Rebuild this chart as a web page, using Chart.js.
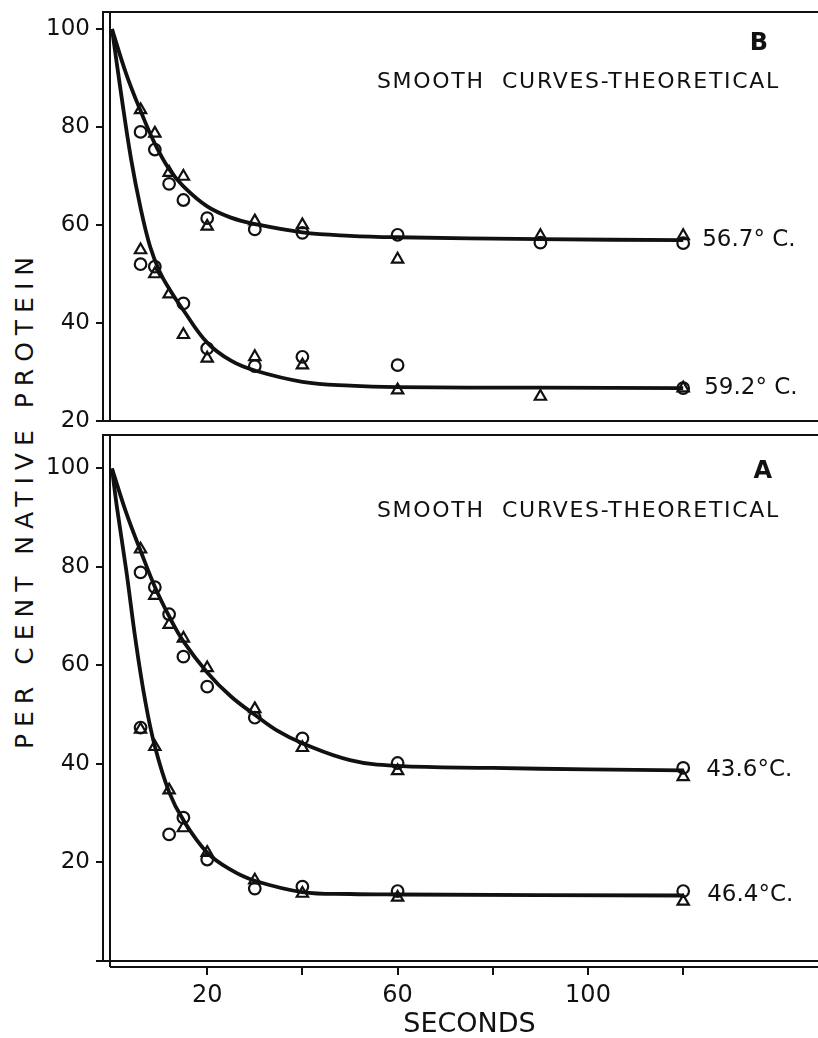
<!DOCTYPE html>
<html>
<head>
<meta charset="utf-8">
<title>Per cent native protein vs. seconds</title>
<script src="https://cdn.jsdelivr.net/npm/chart.js@4.4.1/dist/chart.umd.min.js"></script>
<style>
  html, body { margin: 0; padding: 0; background: #fff; }
  body { width: 818px; height: 1038px; overflow: hidden; position: relative; }
  canvas { position: absolute; left: 0; }
  #yTitle {
    position: absolute; left: -236px; top: 487px; width: 520px;
    text-align: center; white-space: nowrap; color: #111;
    font: 25px "DejaVu Sans", sans-serif; line-height: 25px; letter-spacing: 7px;
    transform: rotate(-90deg);
  }
</style>
</head>
<body>
<div id="yTitle">PER CENT NATIVE PROTEIN</div>
<canvas id="panelA" width="836" height="608" style="top:430px"></canvas>
<canvas id="panelB" width="836" height="440" style="top:0"></canvas>
<script>
// sampling times (s) for the measured points
const seconds = [6, 9, 12, 15, 20, 30, 40, 60, 90, 120];

// panel B, measured points (null = not measured)
const b567Circles   = [79.0, 75.4, 68.4, 65.1, 61.4, 59.1, 58.4, 58.0, 56.4, 56.3];
const b567Triangles = [83.5, 78.7, 70.7, 69.9, 59.7, 60.8, 60.0, 53.0, 57.8, 57.8];
const b592Circles   = [52.0, 51.5, null, 44.0, 34.8, 31.2, 33.1, 31.4, null, 26.7];
const b592Triangles = [54.9, 50.0, 45.9, 37.6, 32.8, 33.1, 31.4, 26.3, 25.0, 26.7];

// panel A, measured points
const a436Circles   = [78.9, 75.9, 70.4, 61.8, 55.7, 49.4, 45.2, 40.2, null, 39.2];
const a436Triangles = [83.6, 74.2, 68.3, 65.5, 59.5, 51.2, 43.3, 38.6, null, 37.4];
const a464Circles   = [47.4, null, 25.7, 29.1, 20.6, 14.7, 15.1, 14.2, null, 14.2];
const a464Triangles = [47.0, 43.5, 34.7, 27.0, 22.0, 16.4, 13.7, 12.9, null, 12.1];

// theoretical curves
const curveTimeB567 = [0, 3, 6, 9, 12, 15, 20, 25, 30, 40, 50, 60, 90, 120];
const curveB567     = [100, 90.8, 83.3, 76.6, 71.4, 67.9, 63.8, 61.5, 60.2, 58.5, 57.8, 57.5, 57.1, 56.9];
const curveTimeB592 = [0, 2, 4, 6, 8, 10, 12, 15, 20, 25, 30, 40, 50, 60, 90, 120];
const curveB592     = [100, 86.2, 73.5, 63.5, 55.6, 50.5, 47.0, 42.6, 36.0, 32.3, 30.3, 28.0, 27.2, 26.9, 26.8, 26.7];
const curveTimeA436 = [0, 3, 6, 9, 12, 15, 20, 25, 30, 35, 40, 50, 60, 80, 100, 120];
const curveA436     = [100, 91.0, 83.3, 76.0, 70.0, 64.9, 58.6, 53.7, 50.0, 46.6, 44.2, 40.8, 39.6, 39.2, 38.9, 38.7];
const curveTimeA464 = [0, 1, 3, 5, 7, 9, 12, 15, 20, 25, 30, 40, 50, 60, 120];
const curveA464     = [100, 92.4, 79.3, 64.8, 52.7, 43.6, 34.3, 28.6, 22.0, 18.5, 16.3, 14.0, 13.6, 13.5, 13.3];

const xTicks = [20, 40, 60, 80, 100, 120];
const xTickLabels = [20, 60, 100];
const yTicksB = [20, 40, 60, 80, 100];
const yTicksA = [0, 20, 40, 60, 80, 100];
const yTickLabels = [20, 40, 60, 80, 100];

const FONT = '"DejaVu Sans", sans-serif';
const INK = '#111';
Chart.defaults.font.family = FONT;
Chart.defaults.color = INK;

const X_MIN = -1.89, X_MAX = 152.1;

const pts = (xs, ys) => xs.map((x, i) => ({ x, y: ys[i] })).filter(p => p.y !== null);

const marks = (ys, style) => ({
  data: pts(seconds, ys),
  showLine: false,
  pointStyle: style,
  pointRadius: style === 'triangle' ? 6.5 : 5.8,
  pointBorderWidth: 2.2,
  pointBorderColor: INK,
  pointBackgroundColor: 'rgba(0,0,0,0)',
  order: 0
});

const curve = (ts, ys) => ({
  data: pts(ts, ys),
  showLine: true,
  borderColor: INK,
  borderWidth: 3.8,
  pointRadius: 0,
  tension: 0.4,
  order: 1
});

// double-ruled frame of each panel
const frameLines = {
  id: 'frameLines',
  beforeDatasetsDraw(chart, args, opts) {
    const { ctx, chartArea: { left, top, right, bottom } } = chart;
    const base = chart.scales.y.getPixelForValue(opts.base);
    const inner = left + 7;
    const seg = (x1, y1, x2, y2) => { ctx.beginPath(); ctx.moveTo(x1, y1); ctx.lineTo(x2, y2); ctx.stroke(); };
    ctx.save();
    ctx.strokeStyle = INK;
    ctx.lineWidth = 2;
    seg(left - 1, top, right, top);
    seg(left, top, left, base);
    seg(left, base, right, base);
    seg(inner, top, inner, bottom);
    seg(inner, bottom, right, bottom);
    ctx.restore();
  }
};

// panel letter, the note, and temperature labels at the curve ends
const panelText = {
  id: 'panelText',
  afterDatasetsDraw(chart, args, o) {
    const { ctx, scales: { x, y } } = chart;
    ctx.save();
    ctx.fillStyle = INK;
    ctx.textAlign = 'right';
    ctx.textBaseline = 'alphabetic';
    ctx.font = `bold 24px ${FONT}`;
    ctx.fillText(o.letter, o.letterRight, o.letterBase);
    ctx.font = `22px ${FONT}`;
    ctx.letterSpacing = '1.7px';
    ctx.fillText(o.note, o.noteRight, o.noteBase);
    ctx.letterSpacing = '0px';
    ctx.textAlign = 'left';
    ctx.textBaseline = 'middle';
    ctx.font = `23px ${FONT}`;
    o.temps.forEach(t => {
      const last = t.curve.length - 1;
      ctx.fillText(t.text, x.getPixelForValue(t.time[last]) + t.dx, y.getPixelForValue(t.curve[last]));
    });
    ctx.restore();
  }
};

function yAxis(min, max, ticks) {
  return {
    type: 'linear',
    min, max,
    afterBuildTicks: s => { s.ticks = ticks.map(v => ({ value: v })); },
    afterFit: s => { s.width = 103; s.paddingTop = 0; s.paddingBottom = 0; },
    grid: { drawOnChartArea: false, tickLength: 7, lineWidth: 2, color: INK },
    border: { display: false },
    ticks: {
      autoSkip: false,
      padding: 6,
      color: INK,
      font: { size: 23 },
      callback: v => (yTickLabels.includes(v) ? String(v) : '')
    }
  };
}

function baseOptions(extra) {
  return {
    responsive: false,
    animation: false,
    devicePixelRatio: 1,
    events: [],
    plugins: { legend: { display: false }, tooltip: { enabled: false }, ...extra.plugins },
    layout: { autoPadding: false, padding: extra.padding },
    scales: extra.scales
  };
}

new Chart(document.getElementById('panelB'), {
  type: 'scatter',
  data: {
    datasets: [
      marks(b567Circles, 'circle'), marks(b567Triangles, 'triangle'),
      marks(b592Circles, 'circle'), marks(b592Triangles, 'triangle'),
      curve(curveTimeB567, curveB567), curve(curveTimeB592, curveB592)
    ]
  },
  options: baseOptions({
    padding: { left: 0, right: 0, top: 12, bottom: 19 },
    scales: {
      x: { type: 'linear', display: false, min: X_MIN, max: X_MAX },
      y: yAxis(20, 103.47, yTicksB)
    },
    plugins: {
      frameLines: { base: 20 },
      panelText: {
        letter: 'B', letterRight: 768, letterBase: 50,
        note: 'SMOOTH  CURVES-THEORETICAL', noteRight: 780, noteBase: 88,
        temps: [
          { text: '56.7° C.', time: curveTimeB567, curve: curveB567, dx: 19 },
          { text: '59.2° C.', time: curveTimeB592, curve: curveB592, dx: 21 }
        ]
      }
    }
  }),
  plugins: [frameLines, panelText]
});

new Chart(document.getElementById('panelA'), {
  type: 'scatter',
  data: {
    datasets: [
      marks(a436Circles, 'circle'), marks(a436Triangles, 'triangle'),
      marks(a464Circles, 'circle'), marks(a464Triangles, 'triangle'),
      curve(curveTimeA436, curveA436), curve(curveTimeA464, curveA464)
    ]
  },
  options: baseOptions({
    padding: { left: 0, right: 0, top: 5, bottom: 0 },
    scales: {
      x: {
        type: 'linear',
        min: X_MIN, max: X_MAX,
        afterBuildTicks: s => { s.ticks = xTicks.map(v => ({ value: v })); },
        afterFit: s => { s.height = 71; s.paddingLeft = 0; s.paddingRight = 0; },
        grid: { drawOnChartArea: false, tickLength: 8, lineWidth: 2, color: INK },
        border: { display: false },
        ticks: {
          autoSkip: false, maxRotation: 0, padding: 6, color: INK,
          font: { size: 24 },
          callback: v => (xTickLabels.includes(v) ? String(v) : '')
        },
        title: { display: true, text: 'SECONDS', color: INK, padding: 0, font: { size: 27, lineHeight: 1 } }
      },
      y: yAxis(-1.22, 106.8, yTicksA)
    },
    plugins: {
      frameLines: { base: 0 },
      panelText: {
        letter: 'A', letterRight: 772, letterBase: 48,
        note: 'SMOOTH  CURVES-THEORETICAL', noteRight: 780, noteBase: 87,
        temps: [
          { text: '43.6°C.', time: curveTimeA436, curve: curveA436, dx: 23 },
          { text: '46.4°C.', time: curveTimeA464, curve: curveA464, dx: 24 }
        ]
      }
    }
  }),
  plugins: [frameLines, panelText]
});
</script>
</body>
</html>
